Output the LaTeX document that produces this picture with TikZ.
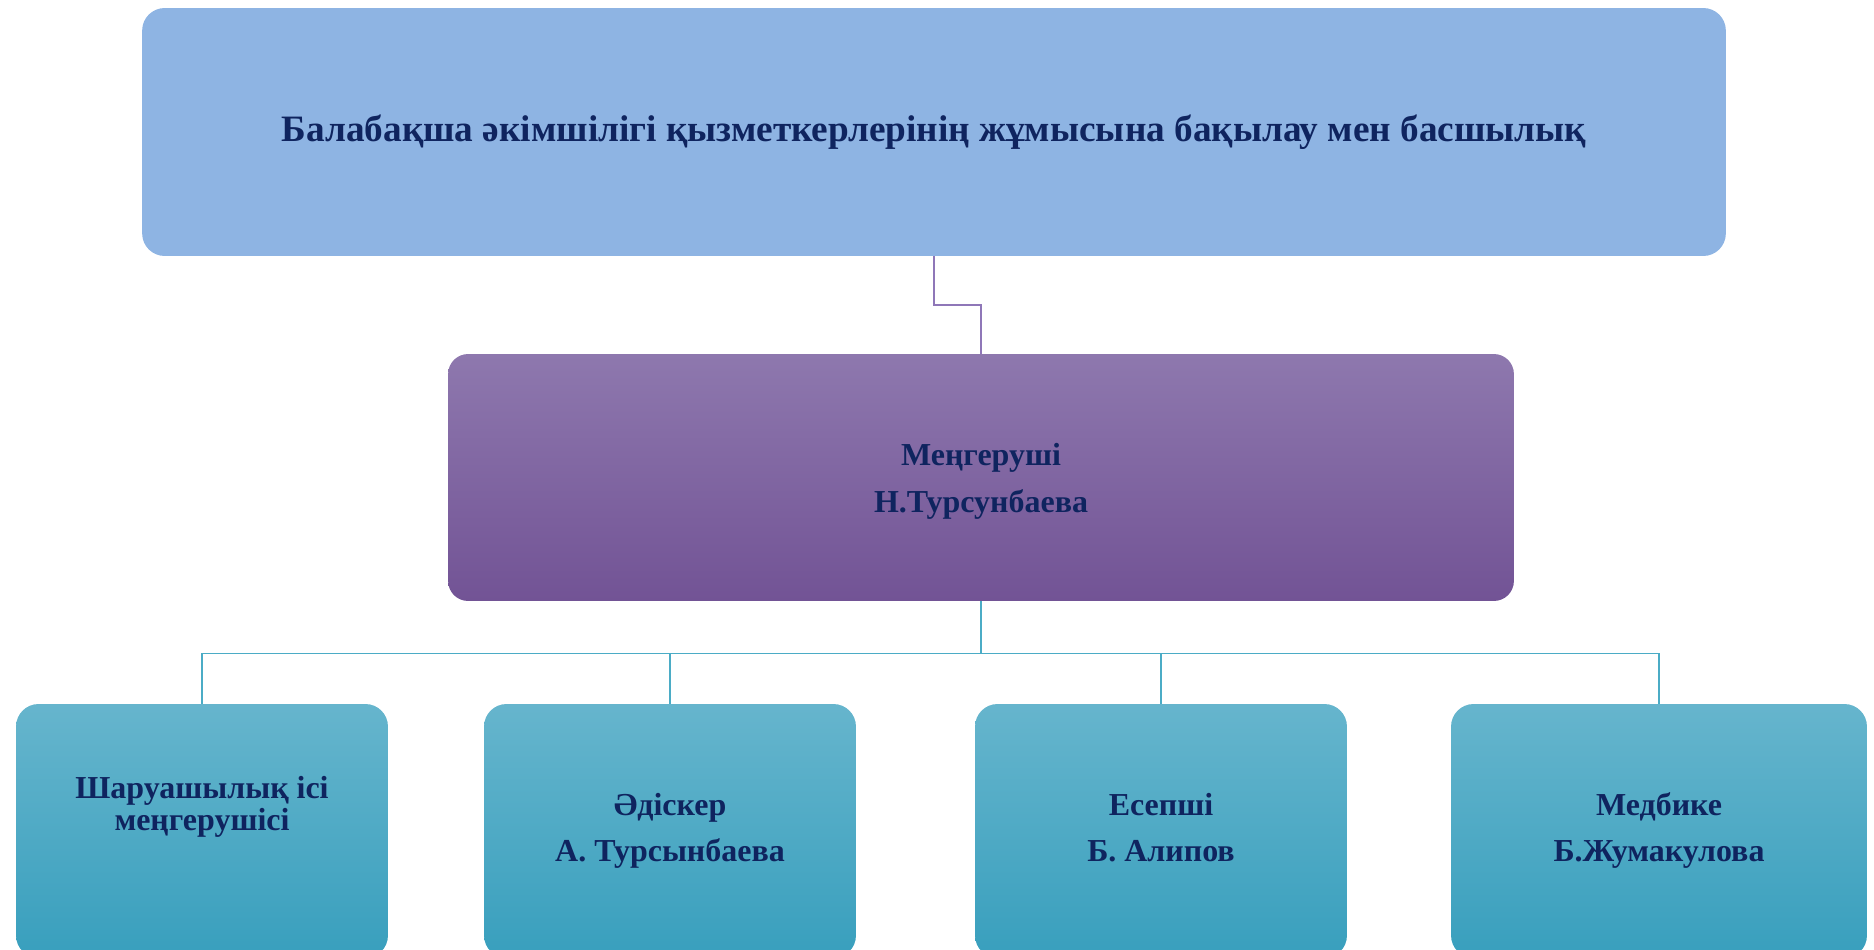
\documentclass[tikz,border=0pt]{standalone}
\usepackage{fontspec}
\setmainfont{Liberation Serif}

\definecolor{navy}{HTML}{0F245F}
\definecolor{skyfill}{HTML}{8EB4E3}
\definecolor{violettop}{HTML}{8E78AE}
\definecolor{violetbot}{HTML}{725395}
\definecolor{tealtop}{HTML}{66B5CD}
\definecolor{tealbot}{HTML}{389FBD}
\definecolor{tealline}{HTML}{4BACC6}
\definecolor{violetline}{HTML}{8F77B8}

\begin{document}
\begin{tikzpicture}[x=0.02cm,y=-0.02cm,
  box/.style={rounded corners=0.45cm,align=center,text=navy,inner sep=0pt,
    font=\bfseries\fontsize{18.2pt}{18.2pt}\selectfont},
  headbox/.style={box,fill=skyfill,minimum width=31.68cm,minimum height=4.96cm,
    font=\bfseries\fontsize{21.2pt}{24pt}\selectfont},
  chiefbox/.style={box,top color=violettop,bottom color=violetbot,
    minimum width=21.32cm,minimum height=4.94cm,rounded corners=0.4cm,text depth=0cm},
  staffbox/.style={box,top color=tealtop,bottom color=tealbot,
    minimum width=7.44cm,minimum height=5.08cm,text depth=0.14cm}]
\useasboundingbox (0,0) rectangle (1874,950);
\clip (0,0) rectangle (1874,950);
\node[headbox] (head) at (934,132)
  {Балабақша әкімшілігі қызметкерлерінің жұмысына бақылау мен басшылық};
\node[chiefbox] (chief) at (981,477.5) {Меңгеруші\\[0.3cm]Н.Турсунбаева};
\node[staffbox,text depth=1.12cm] (farm) at (202,831) {Шаруашылық ісі\\меңгерушісі};
\node[staffbox] (method) at (670,831) {Әдіскер\\[0.28cm]А. Турсынбаева};
\node[staffbox] (account) at (1161,831) {Есепші\\[0.28cm]Б. Алипов};
\node[staffbox,minimum width=8.32cm] (nurse) at (1659,831) {Медбике\\[0.28cm]Б.Жумакулова};
\draw[violetline,line width=0.04cm] (head.south) -- ++(0,49) -| (chief.north);
\draw[tealline,line width=0.03cm] (chief.south) -- ++(0,52) coordinate (fork);
\foreach \b in {farm,method,account,nurse}
  \draw[tealline,line width=0.03cm] (fork) -| (\b.north);
\end{tikzpicture}
\end{document}
